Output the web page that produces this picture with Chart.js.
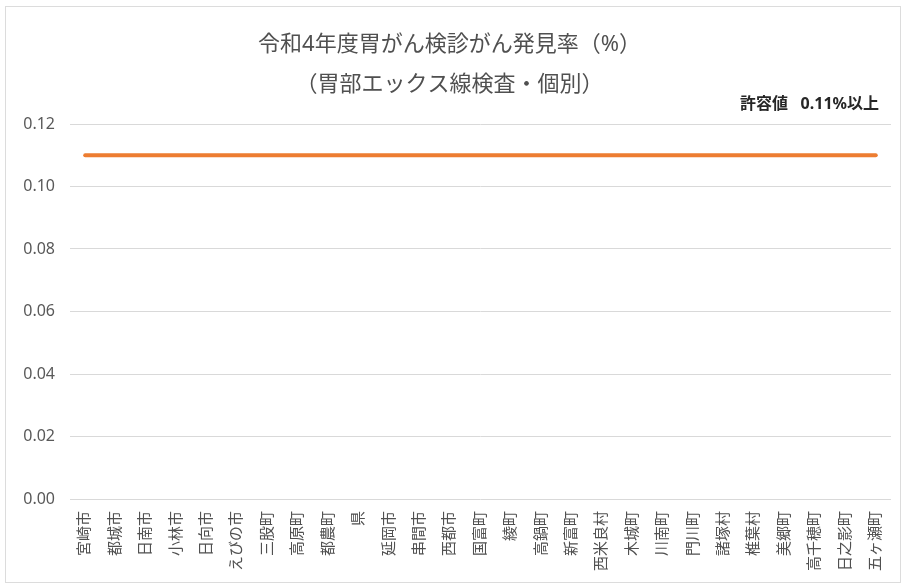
<!DOCTYPE html>
<html lang="ja">
<head>
<meta charset="utf-8">
<title>令和4年度胃がん検診がん発見率</title>
<script src="https://cdn.jsdelivr.net/npm/chart.js@4/dist/chart.umd.min.js"></script>
<style>
    html, body { margin: 0; padding: 0; background: #ffffff; }
    #wrap { position: relative; width: 906px; height: 586px; }
</style>
</head>
<body>
<div id="wrap"><canvas id="kenshin-chart" width="906" height="586"></canvas></div>
<script>
// Municipalities along the x axis
let municipalities = [`宮崎市`, `都城市`, `日南市`, `小林市`, `日向市`, `えびの市`, `三股町`, `高原町`, `都農町`, `県`,
    `延岡市`, `串間市`, `西都市`, `国富町`, `綾町`, `高鍋町`, `新富町`, `西米良村`, `木城町`, `川南町`,
    `門川町`, `諸塚村`, `椎葉村`, `美郷町`, `高千穂町`, `日之影町`, `五ヶ瀬町`]

// Acceptable value (許容値) line, in %
let kyoyochi = [0.11, 0.11, 0.11, 0.11, 0.11, 0.11, 0.11, 0.11, 0.11, 0.11,
    0.11, 0.11, 0.11, 0.11, 0.11, 0.11, 0.11, 0.11, 0.11, 0.11,
    0.11, 0.11, 0.11, 0.11, 0.11, 0.11, 0.11]

let titleLines = [`令和4年度胃がん検診がん発見率（%）`, `（胃部エックス線検査・個別）`]
let noteText = `許容値   0.11%以上`
let yTicks = [0.00, 0.02, 0.04, 0.06, 0.08, 0.10, 0.12]

const FONT = `'Noto Sans', 'Noto Sans CJK JP', sans-serif`

/**
 * Draws the thin frame around the whole chart and the note above the plot.
 */
const framePlugin = {
    id: 'frame',
    beforeDraw (chart) {
        let ctx = chart.ctx
        ctx.save()
        ctx.fillStyle = '#ffffff'
        ctx.fillRect(0, 0, chart.width, chart.height)
        ctx.strokeStyle = '#dcdcdc'
        ctx.lineWidth = 1
        ctx.strokeRect(5.5, 6.5, chart.width - 11, chart.height - 10)
        ctx.restore()
    },
    afterDraw (chart) {
        let ctx = chart.ctx,
        area = chart.chartArea
        ctx.save()
        ctx.font = `bold 16px ${FONT}`
        ctx.fillStyle = '#262626'
        ctx.textAlign = 'right'
        ctx.textBaseline = 'middle'
        ctx.fillText(noteText, area.right - 12, area.top - 20)
        ctx.restore()
    }
}

function loadChart () {
    let ctx = document.getElementById(`kenshin-chart`).getContext('2d')

    new Chart(ctx, {
        type: 'line',
        data: {
            labels: municipalities,
            datasets: [{
                label: '許容値',
                data: kyoyochi,
                borderColor: '#ED7D31',
                backgroundColor: '#ED7D31',
                borderWidth: 4,
                borderCapStyle: 'round',
                pointRadius: 0,
                pointHoverRadius: 0,
                tension: 0
            }]
        },
        options: {
            responsive: false,
            animation: false,
            layout: {
                padding: { left: 6, right: 13, top: 0, bottom: 6 }
            },
            plugins: {
                legend: { display: false },
                tooltip: { enabled: false },
                title: {
                    display: true,
                    text: titleLines,
                    color: '#505050',
                    font: { family: FONT, size: 22, weight: 'normal', lineHeight: '40px' },
                    padding: { top: 25, bottom: 19 }
                }
            },
            scales: {
                x: {
                    type: 'category',
                    offset: true,
                    grid: { display: false, drawTicks: false },
                    border: { display: false },
                    ticks: {
                        autoSkip: false,
                        maxRotation: 90,
                        minRotation: 90,
                        padding: 12,
                        color: '#505050',
                        font: { family: FONT, size: 15 }
                    },
                    afterFit (scale) {
                        scale.height = 81
                    }
                },
                y: {
                    min: 0,
                    max: 0.12,
                    afterBuildTicks (scale) {
                        scale.ticks = yTicks.map((v) => ({ value: v }))
                    },
                    grid: { color: '#d9d9d9', lineWidth: 1, drawTicks: false },
                    border: { display: false },
                    ticks: {
                        padding: 15,
                        color: '#595959',
                        font: { family: FONT, size: 16 },
                        callback: (v) => Number(v).toFixed(2)
                    },
                    afterFit (scale) {
                        scale.width = 64
                    }
                }
            }
        },
        plugins: [framePlugin]
    })
}

loadChart()
</script>
</body>
</html>
